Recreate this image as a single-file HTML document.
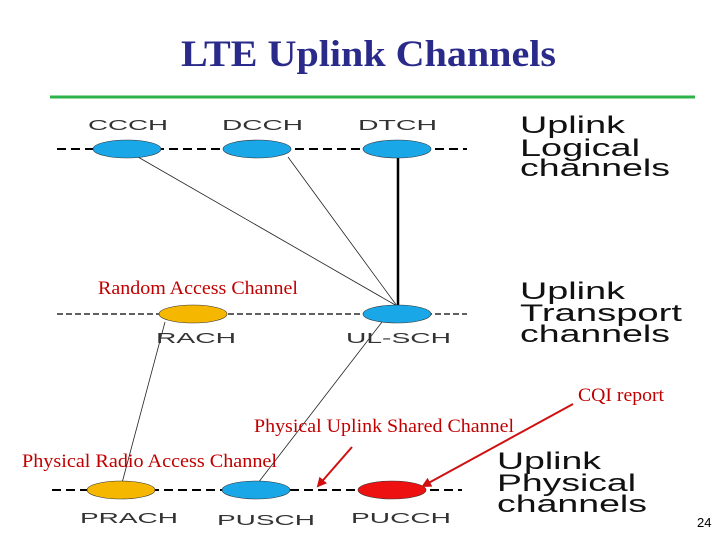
<!DOCTYPE html>
<html><head><style>
body{margin:0;background:#fff;width:720px;height:540px;overflow:hidden}
svg{display:block}
.lab{font-family:"Liberation Sans",sans-serif;font-size:15px;fill:#333}
.big{font-family:"Liberation Sans",sans-serif;font-size:24px;fill:#111}
.red{font-family:"Liberation Serif",serif;font-size:19px;fill:#c00000}
</style></head><body>
<svg width="720" height="540" viewBox="0 0 720 540">
<defs><marker id="ah" markerWidth="10" markerHeight="10" refX="8" refY="5" orient="auto" markerUnits="userSpaceOnUse"><path d="M0,0 L10,5 L0,10 z" fill="#d01010"/></marker></defs>
<text x="181" y="66" textLength="375" lengthAdjust="spacingAndGlyphs" font-family="Liberation Serif,serif" font-weight="bold" font-size="37" fill="#2a2a8a">LTE Uplink Channels</text>
<line x1="50" y1="97" x2="695" y2="97" stroke="#2db34a" stroke-width="3"/>
<g stroke="#000" stroke-width="2" stroke-dasharray="9,5">
<line x1="57" y1="149" x2="467" y2="149"/>
<line x1="57" y1="314" x2="467" y2="314" stroke-width="1.2" stroke-dasharray="6,3"/>
<line x1="52" y1="490" x2="462" y2="490"/>
</g>
<g stroke="#222" stroke-width="0.8">
<line x1="138" y1="157" x2="397" y2="306"/>
<line x1="288" y1="157" x2="397" y2="306"/>
<line x1="165" y1="322" x2="122" y2="483"/>
<line x1="382" y1="322" x2="258" y2="483"/>
</g>
<line x1="398" y1="157" x2="398" y2="306" stroke="#000" stroke-width="2.5"/>
<g stroke="#333" stroke-width="0.6">
<ellipse cx="127" cy="149" rx="34" ry="9" fill="#1aa7e8"/>
<ellipse cx="257" cy="149" rx="34" ry="9" fill="#1aa7e8"/>
<ellipse cx="397" cy="149" rx="34" ry="9" fill="#1aa7e8"/>
<ellipse cx="193" cy="314" rx="34" ry="9" fill="#f5b700"/>
<ellipse cx="397" cy="314" rx="34" ry="9" fill="#1aa7e8"/>
<ellipse cx="121" cy="490" rx="34" ry="9" fill="#f5b700"/>
<ellipse cx="256" cy="490" rx="34" ry="9" fill="#1aa7e8"/>
<ellipse cx="392" cy="490" rx="34" ry="9" fill="#ee1111"/>
</g>
<text class="lab" x="88" y="130" textLength="80" lengthAdjust="spacingAndGlyphs">CCCH</text>
<text class="lab" x="222" y="130" textLength="81" lengthAdjust="spacingAndGlyphs">DCCH</text>
<text class="lab" x="358" y="130" textLength="79" lengthAdjust="spacingAndGlyphs">DTCH</text>
<text class="lab" x="156" y="343" textLength="80" lengthAdjust="spacingAndGlyphs">RACH</text>
<text class="lab" x="346" y="343" textLength="105" lengthAdjust="spacingAndGlyphs">UL-SCH</text>
<text class="lab" x="80" y="523" textLength="98" lengthAdjust="spacingAndGlyphs">PRACH</text>
<text class="lab" x="217" y="525" textLength="98" lengthAdjust="spacingAndGlyphs">PUSCH</text>
<text class="lab" x="351" y="523" textLength="100" lengthAdjust="spacingAndGlyphs">PUCCH</text>
<text class="big" x="520" y="133" textLength="105" lengthAdjust="spacingAndGlyphs">Uplink</text>
<text class="big" x="520" y="156" textLength="120" lengthAdjust="spacingAndGlyphs">Logical</text>
<text class="big" x="520" y="176" textLength="150" lengthAdjust="spacingAndGlyphs">channels</text>
<text class="big" x="520" y="299" textLength="105" lengthAdjust="spacingAndGlyphs">Uplink</text>
<text class="big" x="520" y="321" textLength="162" lengthAdjust="spacingAndGlyphs">Transport</text>
<text class="big" x="520" y="342" textLength="150" lengthAdjust="spacingAndGlyphs">channels</text>
<text class="big" x="497" y="469" textLength="104" lengthAdjust="spacingAndGlyphs">Uplink</text>
<text class="big" x="497" y="491" textLength="139" lengthAdjust="spacingAndGlyphs">Physical</text>
<text class="big" x="497" y="512" textLength="150" lengthAdjust="spacingAndGlyphs">channels</text>
<text class="red" x="98" y="294" textLength="200" lengthAdjust="spacingAndGlyphs">Random Access Channel</text>
<text class="red" x="578" y="401" textLength="86" lengthAdjust="spacingAndGlyphs">CQI report</text>
<text class="red" x="254" y="432" textLength="260" lengthAdjust="spacingAndGlyphs">Physical Uplink Shared Channel</text>
<text class="red" x="22" y="467" textLength="255" lengthAdjust="spacingAndGlyphs">Physical Radio Access Channel</text>
<line x1="352" y1="447" x2="318" y2="486" stroke="#d01010" stroke-width="2" marker-end="url(#ah)"/>
<line x1="573" y1="404" x2="423" y2="486" stroke="#d01010" stroke-width="2" marker-end="url(#ah)"/>
<text x="697" y="527" font-family="Liberation Sans,sans-serif" font-size="13" fill="#000">24</text>
</svg>
</body></html>
